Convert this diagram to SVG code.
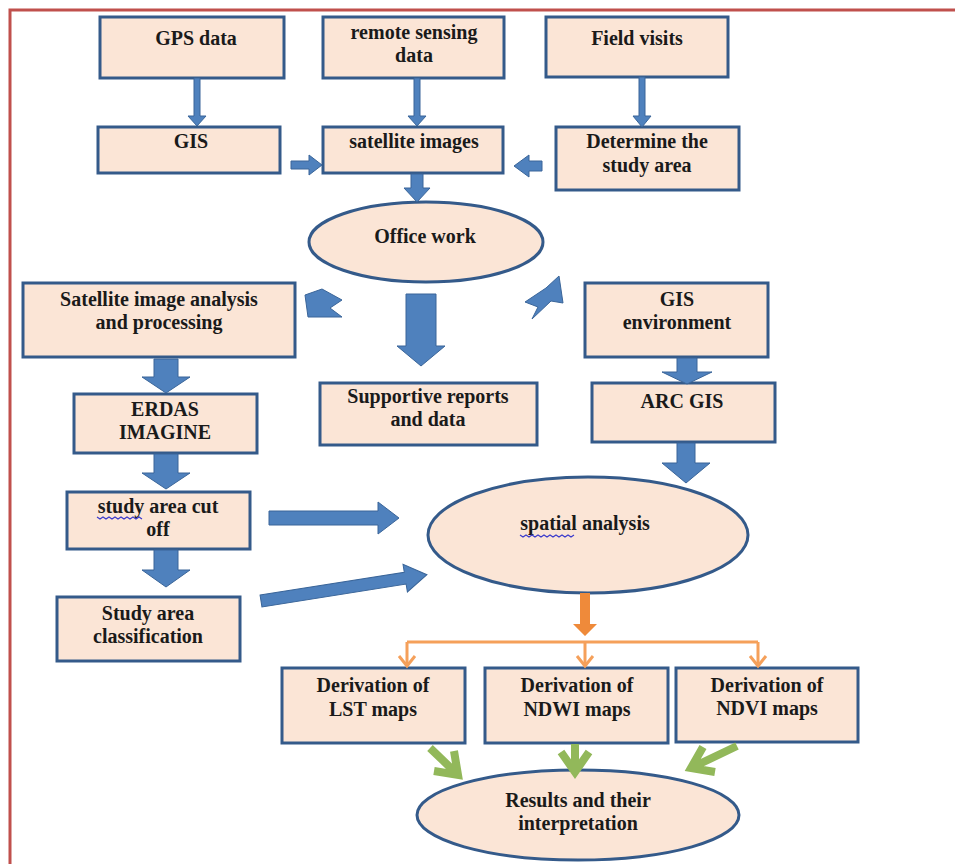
<svg xmlns="http://www.w3.org/2000/svg" width="955" height="864" viewBox="0 0 955 864">
<style>
.box{fill:#fbe5d6;stroke:#345a8a;stroke-width:3}
.ell{fill:#fbe5d6;stroke:#345a8a;stroke-width:3}
.ba{fill:#4f81bd;stroke:#3a6599;stroke-width:1}
.t{font-family:"Liberation Serif","Times New Roman",serif;font-weight:bold;font-size:20px;text-anchor:middle;fill:#1a1a1a}
.or{fill:none;stroke:#f5a05a;stroke-width:3}
.gr{fill:none;stroke:#92b85a;stroke-width:8;stroke-linejoin:miter}
.sq{fill:none;stroke:#3a3acc;stroke-width:1.2}
</style>
<rect width="955" height="864" fill="#ffffff"/>
<path d="M10 864 V10 H955" fill="none" stroke="#c0504d" stroke-width="3"/>

<g id="gps"><rect class="box" x="100" y="17" width="184" height="61"/><text class="t" x="196" y="45">GPS data</text></g>
<g id="remote"><rect class="box" x="323" y="17" width="181" height="61"/><text class="t" x="414" y="39">remote sensing</text><text class="t" x="414" y="62">data</text></g>
<g id="field"><rect class="box" x="546" y="17" width="182" height="60"/><text class="t" x="637" y="45">Field visits</text></g>
<g id="gis"><rect class="box" x="98" y="127" width="182" height="46"/><text class="t" x="191" y="148">GIS</text></g>
<g id="satimg"><rect class="box" x="323" y="127" width="180" height="46"/><text class="t" x="414" y="148">satellite images</text></g>
<g id="determine"><rect class="box" x="556" y="127" width="183" height="63"/><text class="t" x="647" y="148">Determine the</text><text class="t" x="647" y="172">study area</text></g>
<g id="office"><ellipse class="ell" cx="426" cy="242" rx="117" ry="40"/><text class="t" x="425" y="243">Office work</text></g>
<g id="satanalysis"><rect class="box" x="23" y="283" width="272" height="74"/><text class="t" x="159" y="306">Satellite image analysis</text><text class="t" x="159" y="329">and processing</text></g>
<g id="supportive"><rect class="box" x="320" y="383" width="217" height="62"/><text class="t" x="428" y="403">Supportive reports</text><text class="t" x="428" y="426">and data</text></g>
<g id="gisenv"><rect class="box" x="585" y="283" width="183" height="74"/><text class="t" x="677" y="306">GIS</text><text class="t" x="677" y="329">environment</text></g>
<g id="arcgis"><rect class="box" x="592" y="383" width="183" height="59"/><text class="t" x="682" y="408">ARC GIS</text></g>
<g id="erdas"><rect class="box" x="74" y="394" width="183" height="59"/><text class="t" x="165" y="416">ERDAS</text><text class="t" x="165" y="439">IMAGINE</text></g>
<g id="cutoff"><rect class="box" x="67" y="492" width="183" height="57"/><text class="t" x="158" y="513">study area cut</text><text class="t" x="158" y="536">off</text><path class="sq" d="M97 517 l3 2 l3 -2 l3 2 l3 -2 l3 2 l3 -2 l3 2 l3 -2 l3 2 l3 -2 l3 2 l3 -2 l3 2 l3 -2 l3 2"/></g>
<g id="classification"><rect class="box" x="57" y="597" width="183" height="64"/><text class="t" x="148" y="620">Study area</text><text class="t" x="148" y="643">classification</text></g>
<g id="spatial"><ellipse class="ell" cx="588" cy="535" rx="160" ry="58"/><text class="t" x="585" y="530">spatial analysis</text><path class="sq" d="M520 535 l3 2 l3 -2 l3 2 l3 -2 l3 2 l3 -2 l3 2 l3 -2 l3 2 l3 -2 l3 2 l3 -2 l3 2 l3 -2 l3 2 l3 -2 l3 2 l3 -2"/></g>
<g id="lst"><rect class="box" x="282" y="668" width="183" height="75"/><text class="t" x="373" y="692">Derivation of</text><text class="t" x="373" y="716">LST maps</text></g>
<g id="ndwi"><rect class="box" x="485" y="668" width="183" height="75"/><text class="t" x="577" y="692">Derivation of</text><text class="t" x="577" y="716">NDWI maps</text></g>
<g id="ndvi"><rect class="box" x="676" y="668" width="182" height="74"/><text class="t" x="767" y="692">Derivation of</text><text class="t" x="767" y="715">NDVI maps</text></g>
<g id="results"><ellipse class="ell" cx="578" cy="815" rx="161" ry="45"/><text class="t" x="578" y="807">Results and their</text><text class="t" x="578" y="830">interpretation</text></g>

<g id="connectors">
<path class="ba" d="M194 78 H200 V116 H206 L197 126 L188 116 H194 Z"/>
<path class="ba" d="M414 78 H420 V116 H426 L417 126 L408 116 H414 Z"/>
<path class="ba" d="M639 77 H645 V116 H651 L642 127 L633 116 H639 Z"/>
<path class="ba" d="M291 161 H309 V155 L322 165 L309 175 V169 H291 Z"/>
<path class="ba" d="M542 161 H529 V155 L514 166 L529 177 V171 H542 Z"/>
<path class="ba" d="M411 174 H423 V188 H430 L417 202 L404 188 H411 Z"/>
<path class="ba" d="M305 295 L322 289 L342 300 L330 308 L342 317 L308 317 Z"/>
<path class="ba" d="M406 294 H436 V346 H445 L421 366 L397 346 H406 Z"/>
<path class="ba" d="M525 302 L546 288 L559 276 L563 303 L551 301 L532 319 L538 307 Z"/>
<path class="ba" d="M154 359 H178 V377 H190 L166 393 L142 377 H154 Z"/>
<path class="ba" d="M154 454 H178 V473 H190 L166 489 L142 473 H154 Z"/>
<path class="ba" d="M154 550 H178 V570 H190 L166 587 L142 570 H154 Z"/>
<path class="ba" d="M677 358 H697 V372 H712 L687 384 L662 372 H677 Z"/>
<path class="ba" d="M677 443 H695 V463 H710 L686 483 L662 463 H677 Z"/>
<path class="ba" d="M269 511 H378 V502 L399 518 L378 534 V525 H269 Z"/>
<path class="ba" transform="translate(261,601) rotate(-9)" d="M0 -6 H146 V-14 L168 0 L146 14 V6 H0 Z"/>
<path d="M580 593 H590 V624 H597 L585 636 L573 624 H580 Z" fill="#ef8a3a"/>
<path class="or" d="M407 642 H758 M407 642 V665 M585 642 V665 M758 642 V665"/>
<path class="or" d="M399 656 L407 666 L415 656 M577 656 L585 666 L593 656 M750 656 L758 666 L766 656"/>
<path class="gr" d="M430 748 L455 772 M454 751 L458 775 L434 771"/>
<path class="gr" d="M575 744 V769 M561 752 L575 772 L589 752"/>
<path class="gr" d="M737 746 L695 766 M703 747 L691 768 L715 772"/>
</g>
</svg>
